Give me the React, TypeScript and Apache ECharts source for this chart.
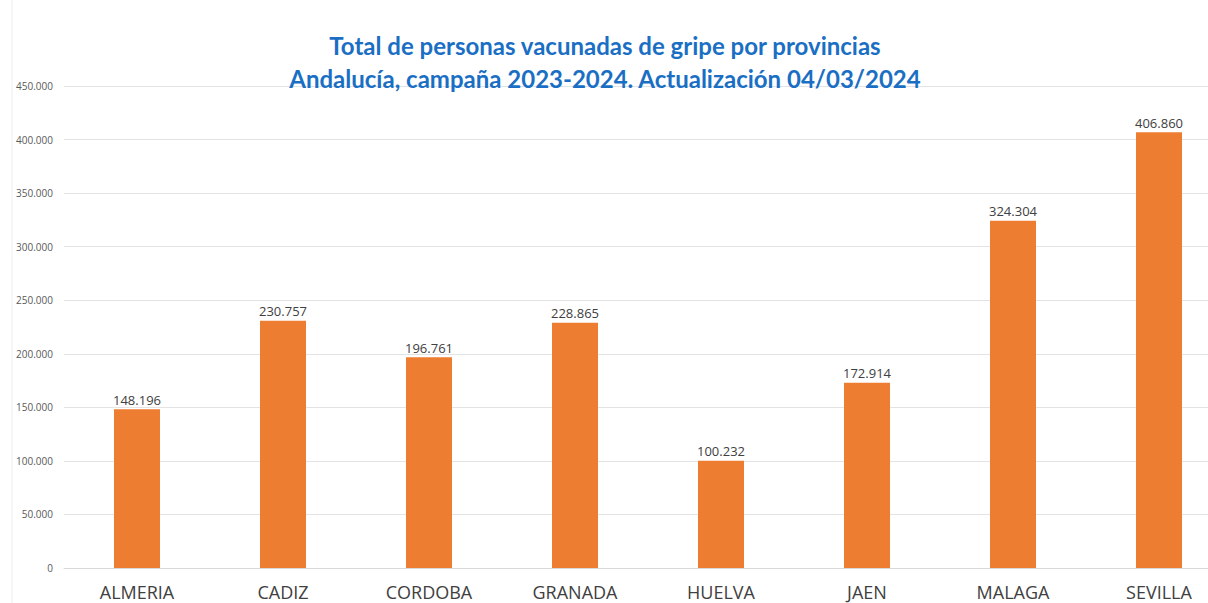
import React, { useEffect, useRef } from "react";
import * as echarts from "echarts";

const categories = ["ALMERIA", "CADIZ", "CORDOBA", "GRANADA", "HUELVA", "JAEN", "MALAGA", "SEVILLA"];
const values = [148196, 230757, 196761, 228865, 100232, 172914, 324304, 406860];
const titleLines = [
  "Total de personas vacunadas de gripe por provincias",
  "Andalucía, campaña 2023-2024. Actualización 04/03/2024",
];

const fmt = (v: number) => String(v).replace(/\B(?=(\d{3})+(?!\d))/g, ".");

export default function App() {
  const ref = useRef<HTMLDivElement>(null);
  useEffect(() => {
    const chart = echarts.init(ref.current!, null, { renderer: "svg" });
    chart.setOption({
      animation: false,
      backgroundColor: "#ffffff",
      title: {
        text: titleLines.join("\n"),
        left: 600,
        textAlign: "center",
        top: 24,
        textStyle: {
          fontFamily: "Lato",
          fontWeight: "bold",
          fontSize: 24,
          color: "#1a6fc4",
          lineHeight: 33,
        },
      },
      grid: { left: 64, right: 0, top: 86, bottom: 35 },
      xAxis: {
        type: "category",
        data: categories,
        axisTick: { show: false },
        axisLine: { lineStyle: { color: "#d9d9d9", width: 1 } },
        axisLabel: { color: "#404040", fontSize: 18, fontFamily: "Open Sans", margin: 15 },
      },
      yAxis: {
        type: "value",
        min: 0,
        max: 450000,
        interval: 50000,
        axisLine: { show: false },
        axisTick: { show: false },
        splitLine: { lineStyle: { color: "#e3e3e3", width: 1 } },
        axisLabel: {
          color: "#595959",
          fontSize: 10,
          fontFamily: "Open Sans",
          margin: 11,
          formatter: (v: number) => fmt(v),
        },
      },
      series: [
        {
          type: "bar",
          data: values,
          barWidth: 46,
          itemStyle: { color: "#ed7d31" },
          label: {
            show: true,
            position: "top",
            distance: 3,
            color: "#404040",
            fontSize: 13,
            fontFamily: "Open Sans",
            formatter: (p: any) => fmt(p.value),
          },
        },
      ],
      graphic: [
        {
          type: "line",
          shape: { x1: 12, y1: 0, x2: 12, y2: 603 },
          style: { stroke: "#f0f0f0", lineWidth: 1 },
        },
      ],
    });
    return () => chart.dispose();
  }, []);
  return (
    <div
      style={{ position: "fixed", left: 0, top: 0, width: 1208, height: 603, overflow: "hidden", background: "#fff" }}
    >
      <div ref={ref} style={{ width: 1232, height: 603 }} />
    </div>
  );
}
